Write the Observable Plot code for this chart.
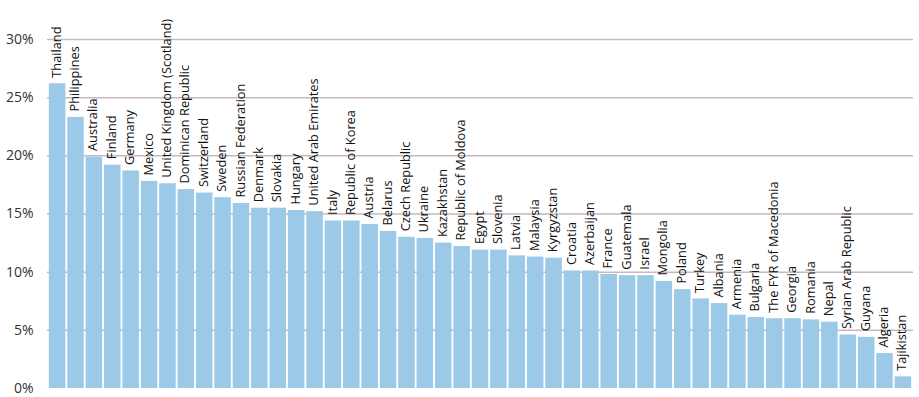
<!DOCTYPE html>
<html>
<head>
<meta charset="utf-8">
<script src="https://cdn.jsdelivr.net/npm/d3@7"></script>
<script src="https://cdn.jsdelivr.net/npm/@observablehq/plot@0.6"></script>
<style>
  html, body { margin: 0; padding: 0; background: #fff; }
  #chart svg { display: block; overflow: visible;
    background: linear-gradient(to bottom, #ffffff 0px, #ffffff 389px, #e6f2fa 391px, #f3f8fc 397px); }
</style>
</head>
<body>
<div id="chart"></div>
<script>
const countries = ["Thailand","Philippines","Australia","Finland","Germany","Mexico","United Kingdom (Scotland)","Dominican Republic","Switzerland","Sweden","Russian Federation","Denmark","Slovakia","Hungary","United Arab Emirates","Italy","Republic of Korea","Austria","Belarus","Czech Republic","Ukraine","Kazakhstan","Republic of Moldova","Egypt","Slovenia","Latvia","Malaysia","Kyrgyzstan","Croatia","Azerbaijan","France","Guatemala","Israel","Mongolia","Poland","Turkey","Albania","Armenia","Bulgaria","The FYR of Macedonia","Georgia","Romania","Nepal","Syrian Arab Republic","Guyana","Algeria","Tajikistan"];
const values = [26.2,23.3,19.9,19.2,18.7,17.8,17.6,17.1,16.8,16.4,15.9,15.5,15.5,15.3,15.2,14.4,14.4,14.1,13.5,13.0,12.9,12.5,12.2,11.9,11.9,11.4,11.3,11.2,10.1,10.1,9.8,9.7,9.7,9.2,8.5,7.7,7.3,6.3,6.1,6.0,6.0,5.9,5.7,4.6,4.4,3.0,1.0];
const yTicks = [0,5,10,15,20,25,30];

const data = countries.map((c, i) => ({country: c, value: values[i]}));

const chart = Plot.plot({
  width: 919,
  height: 397,
  marginLeft: 47,
  marginRight: 6,
  marginTop: 39,
  marginBottom: 9,
  style: {fontFamily: "'Open Sans', sans-serif", background: "transparent"},
  x: {domain: countries, padding: 0.1, round: false, axis: null},
  y: {domain: [0, 30], ticks: yTicks, tickFormat: d => d + "%", tickSize: 0, tickPadding: 14, label: null},
  marks: [
    Plot.ruleY(yTicks.filter(d => d > 0), {stroke: "#c9b6bf", strokeWidth: 1.5}),
    Plot.axisY({ticks: yTicks, tickFormat: d => d + "%", tickSize: 0, tickPadding: 14, fontSize: 14, color: "#333", label: null}),
    Plot.barY(data, {x: "country", y: "value", fill: "#9dc9e8"}),
    Plot.text(data, {x: "country", y: "value", text: "country", rotate: -90, textAnchor: "start", dy: -6, dx: -1, fontSize: 12.8, fill: "#111"})
  ]
});
document.getElementById("chart").appendChild(chart);
</script>
</body>
</html>
